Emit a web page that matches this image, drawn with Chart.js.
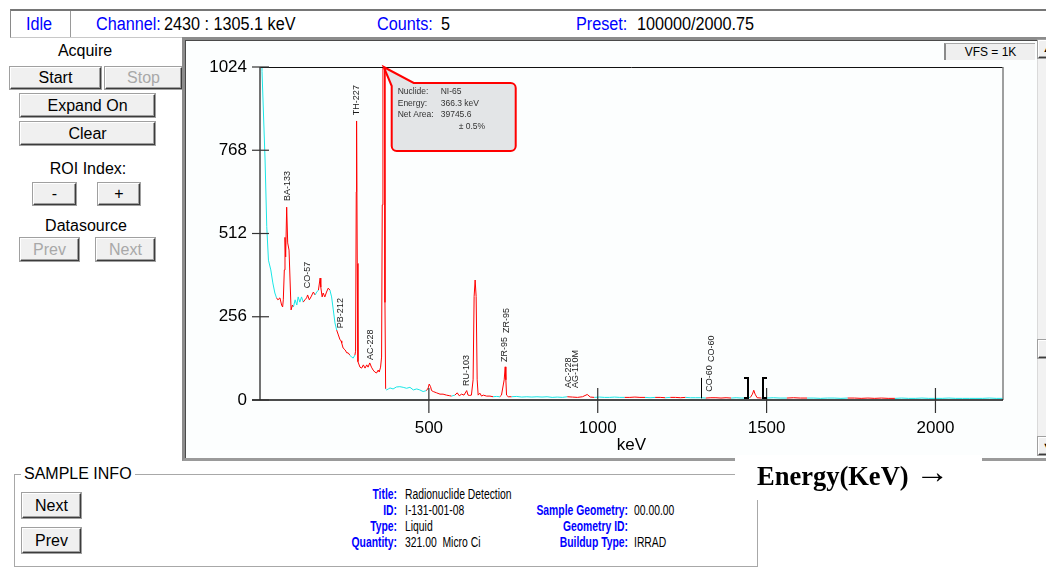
<!doctype html>
<html>
<head>
<title>Gamma spectrum</title>
<script src="https://cdn.jsdelivr.net/npm/chart.js@4.4.9/dist/chart.umd.min.js"></script>
<style>
body { margin:0; width:1046px; height:578px; overflow:hidden; background:#fff; position:relative;
       font-family:"Liberation Sans", Arial, sans-serif; }
.a { position:absolute; white-space:nowrap; }
.sq { transform:scaleX(0.9); transform-origin:left center; }
.blue { color:#0000ff; }
.btn { position:absolute; box-sizing:border-box; background:#f0f0f0; border:1px solid;
       border-color:#ffffff #3c3c3c #3c3c3c #ffffff; box-shadow:0 0 0 1px #a0a0a0, inset -1px -1px 0 #a0a0a0;
       text-align:center; font-size:16px; color:#000; }
.off { color:#a8a8a8; }
#status { left:10px; top:9px; width:1050px; height:26px; border-top:2px solid #767676; border-left:1px solid #8a8a8a;
          border-bottom:1px solid #c8c8c8; }
#status .a { top:3px; font-size:18px; line-height:20px; }
#panel { left:182px; top:37px; width:880px; height:418px; background:#fcfefe; border:3px solid;
         border-color:#8c8c8c #e6e6e6 #9a9a9a #8c8c8c; box-shadow:inset 1px 1px 0 #4a4a4a; }
#chart { position:absolute; left:186px; top:42px; }
.info { font-size:14px; line-height:16px; transform:scaleX(0.74); transform-origin:left top; }
.lab { font-weight:bold; color:#0000ff; text-align:right; transform-origin:right top; }
</style>
</head>
<body>

<div id="status" class="a">
  <div class="a blue sq" style="left:15px">Idle</div>
  <div class="a" style="left:59px;top:0;width:1px;height:26px;background:#9a9a9a"></div>
  <div class="a blue sq" style="left:85px">Channel:</div>
  <div class="a sq" style="left:153px">2430 : 1305.1 keV</div>
  <div class="a blue sq" style="left:366px">Counts:</div>
  <div class="a sq" style="left:430px">5</div>
  <div class="a blue sq" style="left:565px">Preset:</div>
  <div class="a sq" style="left:626px">100000/2000.75</div>
</div>

<div class="a" style="left:0;width:170px;top:42px;text-align:center;font-size:16px">Acquire</div>
<div class="btn" style="left:10px;top:67px;width:91px;height:22px;line-height:20px">Start</div>
<div class="btn off" style="left:105px;top:67px;width:77px;height:22px;line-height:20px">Stop</div>
<div class="btn" style="left:20px;top:94px;width:135px;height:23px;line-height:21px">Expand On</div>
<div class="btn" style="left:20px;top:122px;width:135px;height:23px;line-height:21px">Clear</div>
<div class="a" style="left:0;width:176px;top:160px;text-align:center;font-size:16px">ROI Index:</div>
<div class="btn" style="left:33px;top:183px;width:43px;height:22px;line-height:20px">-</div>
<div class="btn" style="left:98px;top:183px;width:42px;height:22px;line-height:20px">+</div>
<div class="a" style="left:0;width:172px;top:217px;text-align:center;font-size:16px">Datasource</div>
<div class="btn off" style="left:20px;top:238px;width:59px;height:23px;line-height:21px">Prev</div>
<div class="btn off" style="left:96px;top:238px;width:59px;height:23px;line-height:21px">Next</div>

<div id="panel" class="a"></div>
<div class="a" style="left:944px;top:43px;width:91px;height:17px;box-sizing:border-box;background:#efefef;
     border-left:2px solid #8a8a8a;border-top:1px solid #a8a8a8;font-size:12px;line-height:16px;text-align:center">VFS = 1K</div>
<div class="a" style="left:1037px;top:40px;width:20px;height:416px;background:#f2f2f2;border-left:1px solid #dadada">
  <div class="btn" style="left:0;top:0;width:18px;height:18px;font-size:9px;line-height:16px">&#9650;</div>
  <div class="btn" style="left:0;top:300px;width:18px;height:18px"></div>
  <div class="btn" style="left:0;top:397px;width:18px;height:18px;font-size:9px;line-height:16px">&#9660;</div>
</div>
<canvas id="chart" width="850" height="415"></canvas>

<div class="a" style="left:14px;top:474px;width:742px;height:91px;border:1px solid #a8a8a8"></div>
<div class="a" style="left:21px;top:465px;padding:0 3px;background:#fff;font-size:16px">SAMPLE INFO</div>
<div class="btn" style="left:22px;top:493px;width:59px;height:25px;line-height:23px">Next</div>
<div class="btn" style="left:22px;top:528px;width:59px;height:25px;line-height:23px">Prev</div>

<div class="a info lab" style="left:237px;width:160px;top:486px">Title:<br>ID:<br>Type:<br>Quantity:</div>
<div class="a info" style="left:405px;top:486px">Radionuclide Detection<br>I-131-001-08<br>Liquid<br>321.00&nbsp;&nbsp;Micro Ci</div>
<div class="a info lab" style="left:428px;width:200px;top:502px">Sample Geometry:<br>Geometry ID:<br>Buildup Type:</div>
<div class="a info" style="left:634px;top:502px">00.00.00<br><br>IRRAD</div>

<div class="a" style="left:735px;top:455px;width:247px;height:45px;background:#fff"></div>
<div class="a" style="left:757px;top:459px;font:bold 26.5px/30px 'Liberation Serif','Times New Roman',serif">Energy(KeV)
  <span style="font-size:34px;font-weight:normal;position:relative;top:-2px">&rarr;</span></div>

<script>
// spectrum (keV, counts)
const energyKeV = [3, 6, 15, 20, 25, 32, 38, 44, 49, 53, 59, 64, 67, 69, 72, 74, 76, 79, 82, 86, 89, 92, 96, 99,
  104, 109, 113, 118, 123, 128, 133, 138, 141, 146, 151, 158, 163, 168, 173, 178, 180, 184, 187, 192, 197, 202,
  207, 212, 217, 222, 227, 232, 237, 240, 242, 246, 252, 257, 261, 266, 271, 276, 281, 283, 285, 286, 288, 290,
  296, 301, 306, 311, 316, 320, 325, 330, 335, 340, 345, 350, 353, 357, 360, 362, 364, 368, 370, 372, 375, 380,
  385, 394, 404, 414, 424, 434, 444, 454, 464, 473, 483, 493, 498, 501, 505, 508, 513, 523, 533, 542, 552, 562,
  567, 577, 584, 590, 597, 604, 612, 616, 621, 626, 631, 634, 637, 640, 643, 646, 651, 656, 661, 671, 681, 690,
  700, 710, 715, 723, 726, 728, 730, 735, 745, 760, 775, 790, 805, 820, 835, 850, 865, 880, 895, 910, 925, 940,
  955, 969, 978, 990, 1005, 1020, 1035, 1050, 1065, 1080, 1095, 1110, 1125, 1140, 1155, 1170, 1185, 1200, 1215,
  1230, 1245, 1260, 1275, 1290, 1305, 1320, 1335, 1350, 1365, 1380, 1395, 1410, 1425, 1440, 1452, 1458, 1462,
  1466, 1472, 1485, 1500, 1520, 1540, 1560, 1580, 1600, 1620, 1640, 1660, 1680, 1700, 1720, 1740, 1760, 1780,
  1800, 1820, 1840, 1860, 1880, 1900, 1920, 1940, 1960, 1980, 2000, 2020, 2040, 2060, 2080, 2100, 2120, 2140,
  2160, 2180, 2200];
const counts = [1400, 1010, 738, 533, 430, 400, 360, 329, 314, 308, 314, 292, 286, 308, 400, 500, 440, 593, 483, 461, 369, 277, 292, 286,
  308, 292, 317, 301, 317, 301, 308, 314, 323, 308, 317, 332, 323, 332, 338, 375, 347, 317, 329, 317, 332, 344,
  338, 317, 277, 237, 215, 200, 185, 182, 175, 160, 154, 145, 145, 138, 132, 129, 138, 150, 640, 858, 420, 118,
  101, 98, 108, 98, 108, 101, 114, 101, 92, 86, 83, 92, 86, 101, 132, 600, 1600, 1600, 300, 34, 31, 34,
  37, 34, 40, 41, 39, 36, 39, 31, 34, 31, 26, 29, 37, 49, 41, 29, 26, 22, 18, 18, 15, 13,
  12, 15, 22, 13, 18, 15, 29, 15, 14, 15, 62, 318, 369, 318, 62, 15, 21, 12, 15, 12, 12, 10,
  11, 10, 15, 62, 102, 62, 15, 10, 10, 11, 9, 10, 9, 10, 9, 10, 8, 9, 8, 10, 9, 8,
  10, 17, 9, 8, 9, 8, 8, 9, 8, 8, 8, 9, 8, 8, 7, 8, 8, 7, 8,
  8, 7, 8, 7, 7, 7, 6, 7, 7, 6, 7, 6, 7, 6, 6, 8, 18, 30,
  18, 7, 6, 6, 7, 6, 6, 7, 6, 6, 6, 5, 6, 6, 5, 6, 6, 5,
  6, 5, 6, 5, 5, 6, 5, 5, 6, 5, 5, 5, 6, 5, 5, 5, 5, 5,
  6, 5, 5];

// regions of interest drawn in red (keV)
const roiLo = [49, 128, 175, 229, 281, 495, 575, 712, 905, 1085, 1163, 1222, 1322, 1450, 1568, 1746];
const roiHi = [99, 165, 209, 264, 371, 565, 688, 740, 985, 1145, 1205, 1263, 1400, 1480, 1628, 1885];

const xTicks = [500, 1000, 1500, 2000];
const yTicks = [0, 256, 512, 768, 1024];

// nuclide labels: name, keV, count at the foot of the text
const peakNames = ['BA-133', 'CO-57', 'PB-212', 'TH-227', 'AC-228', 'RU-103', 'ZR-95', 'ZR-95',
  'AC-228', 'AG-110M', 'CO-60', 'CO-60'];
const peakKeV = [81, 141, 239, 285, 328, 612, 725, 729, 913, 935, 1332, 1336];
const peakLabelCounts = [612, 344, 221, 876, 123, 43, 117, 206, 37, 37, 25, 117];

const cursorKeV = 1305.1;
const bracketKeV = [1446, 1490];

const calloutKeV = 366.3;
const calloutKeys = ['Nuclide:', 'Energy:', 'Net Area:'];
const calloutVals = ['NI-65', '366.3 keV', '39745.6'];
const calloutErr = '\u00b1 0.5%';

const RED = '#ff0000', CYAN = '#19e6e6';
const FONT = '"Liberation Sans", Arial, sans-serif';

function inRoi(e) {
  return roiLo.some((lo, i) => e >= lo && e <= roiHi[i]);
}

function seg(ctx, x1, y1, x2, y2) {
  ctx.beginPath(); ctx.moveTo(x1, y1); ctx.lineTo(x2, y2); ctx.stroke();
}

const decor = {
  id: 'decor',
  afterDatasetsDraw(chart) {
    const {ctx, chartArea: a, scales: {x, y}} = chart;
    ctx.save();
    // frame
    ctx.lineWidth = 1; ctx.strokeStyle = '#111';
    seg(ctx, a.left, a.top + 0.5, a.right, a.top + 0.5);
    ctx.lineWidth = 1.5; ctx.strokeStyle = '#7f7f7f';
    seg(ctx, a.right, a.top, a.right, a.bottom);
    ctx.strokeStyle = '#444';
    seg(ctx, a.left, a.top, a.left, a.bottom);
    ctx.strokeStyle = '#111';
    seg(ctx, a.left - 8, a.bottom, a.right, a.bottom);
    // ticks cross the axes
    ctx.lineWidth = 1.2; ctx.strokeStyle = '#333';
    yTicks.forEach(v => { const p = y.getPixelForValue(v); seg(ctx, a.left - 8, p, a.left + 9, p); });
    xTicks.forEach(v => { const p = x.getPixelForValue(v); seg(ctx, p, a.bottom - 12, p, a.bottom + 13); });

    // cursor and roi brackets
    ctx.lineWidth = 1; ctx.strokeStyle = '#000';
    let cx = Math.round(x.getPixelForValue(cursorKeV)) + 0.5;
    seg(ctx, cx, y.getPixelForValue(5), cx, y.getPixelForValue(68));
    ctx.lineWidth = 2;
    bracketKeV.forEach((e, i) => {
      const px = Math.round(x.getPixelForValue(e));
      const t = y.getPixelForValue(68), b = y.getPixelForValue(6);
      const d = i === 0 ? -4 : 4;
      ctx.beginPath(); ctx.moveTo(px + d, t); ctx.lineTo(px, t); ctx.lineTo(px, b); ctx.lineTo(px + d, b); ctx.stroke();
    });

    // nuclide labels
    ctx.font = '9px ' + FONT; ctx.fillStyle = '#1a1a1a';
    ctx.textAlign = 'left'; ctx.textBaseline = 'middle';
    peakNames.forEach((n, i) => {
      ctx.save();
      ctx.translate(x.getPixelForValue(peakKeV[i]), y.getPixelForValue(peakLabelCounts[i]));
      ctx.rotate(-Math.PI / 2);
      ctx.fillText(n, 0, 0);
      ctx.restore();
    });

    // callout on the clipped peak
    const ax = x.getPixelForValue(calloutKeV), ay = a.top;
    const bx = ax + 8, by = ay + 16, bw = 124, bh = 68, r = 5;
    ctx.beginPath();
    ctx.moveTo(ax, ay);
    ctx.lineTo(ax + 30, by);
    ctx.lineTo(bx + bw - r, by);
    ctx.arcTo(bx + bw, by, bx + bw, by + r, r);
    ctx.lineTo(bx + bw, by + bh - r);
    ctx.arcTo(bx + bw, by + bh, bx + bw - r, by + bh, r);
    ctx.lineTo(bx + r, by + bh);
    ctx.arcTo(bx, by + bh, bx, by + bh - r, r);
    ctx.lineTo(bx, by + 3);
    ctx.closePath();
    ctx.fillStyle = '#e3e5e7'; ctx.fill();
    ctx.lineWidth = 2; ctx.strokeStyle = RED; ctx.stroke();
    ctx.font = '8.5px ' + FONT; ctx.fillStyle = '#333';
    calloutKeys.forEach((k, i) => {
      ctx.fillText(k, ax + 14, ay + 25 + i * 11.5);
      ctx.fillText(calloutVals[i], ax + 57, ay + 25 + i * 11.5);
    });
    ctx.fillText(calloutErr, ax + 75, ay + 60);
    ctx.restore();
  }
};

new Chart(document.getElementById('chart'), {
  type: 'line',
  data: {
    datasets: [{
      data: energyKeV.map((e, i) => ({x: e, y: counts[i]})),
      borderColor: CYAN,
      borderWidth: 1,
      pointRadius: 0,
      tension: 0,
      segment: {
        borderColor: c => inRoi((c.p0.parsed.x + c.p1.parsed.x) / 2) ? RED : CYAN
      }
    }]
  },
  options: {
    responsive: false,
    animation: false,
    layout: {padding: {top: 25, right: 33, left: 0, bottom: 0}},
    plugins: {legend: {display: false}, tooltip: {enabled: false}},
    scales: {
      x: {
        type: 'linear', min: 0, max: 2200,
        afterBuildTicks: s => { s.ticks = xTicks.map(v => ({value: v})); },
        afterFit: s => { s.height = 57; },
        grid: {display: false, drawTicks: false},
        border: {display: false},
        ticks: {padding: 18, color: '#000', font: {size: 17, family: FONT}, callback: v => String(v)},
        title: {display: true, text: 'keV', color: '#000', font: {size: 17, family: FONT}, padding: {top: 0, bottom: 1}}
      },
      y: {
        min: 0, max: 1024,
        afterBuildTicks: s => { s.ticks = yTicks.map(v => ({value: v})); },
        afterFit: s => { s.width = 74; },
        grid: {display: false, drawTicks: false},
        border: {display: false},
        ticks: {padding: 13, color: '#000', font: {size: 17, family: FONT}, callback: v => String(v)}
      }
    }
  },
  plugins: [decor]
});
</script>
</body>
</html>
